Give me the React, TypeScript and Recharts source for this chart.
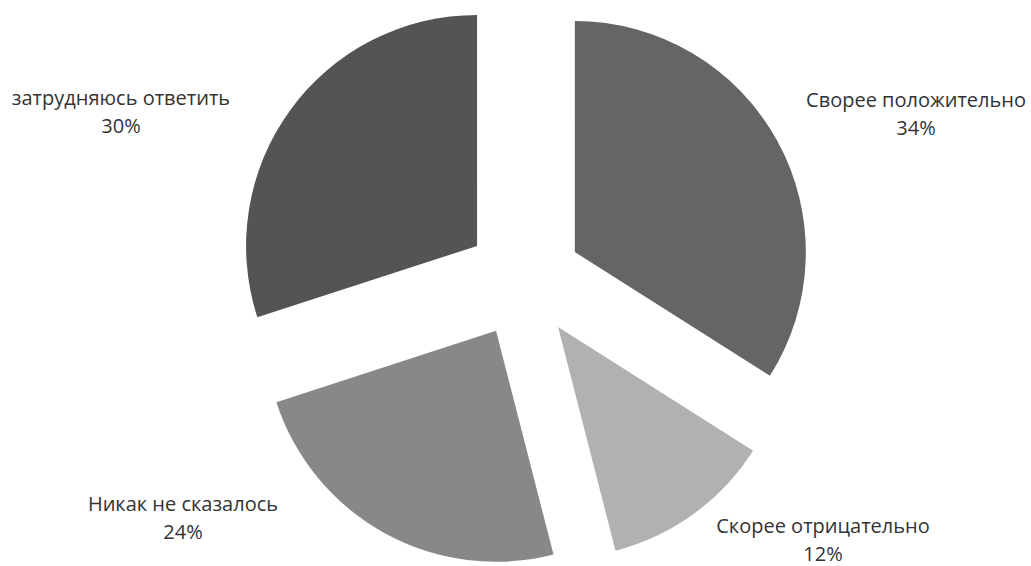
import React from 'react';
import { PieChart, Pie, Cell, Sector } from 'recharts';

const categories = ['Сворее положительно', 'Скорее отрицательно', 'Никак не сказалось', 'затрудняюсь ответить'];
const values = [34, 12, 24, 30];
const colors = ['#656565', '#b1b1b1', '#888888', '#545454'];

const data = categories.map((name, i) => ({ name, value: values[i] }));

const EXPLODE = 58;
const RAD = Math.PI / 180;
// label anchor offsets (first-line baseline) relative to the pie centre (Excel-like placement)
const labelPos = [
  { dx: 392, dy: -173 },
  { dx: 299, dy: 253 },
  { dx: -341, dy: 231 },
  { dx: -403, dy: -175 },
];

const renderShape = (props: any) => {
  const { cx, cy, midAngle } = props;
  const ox = cx + EXPLODE * Math.cos(-midAngle * RAD);
  const oy = cy + EXPLODE * Math.sin(-midAngle * RAD);
  return <Sector {...props} cx={ox} cy={oy} stroke="none" />;
};

const renderLabel = (props: any) => {
  const { cx, cy, index, name, percent } = props;
  const p = labelPos[index];
  const x = cx + p.dx;
  const y = cy + p.dy;
  return (
    <text x={x} y={y} textAnchor="middle" fill="#333333" fontFamily="'Open Sans', sans-serif" fontSize={20}>
      <tspan x={x} dy={0}>{name}</tspan>
      <tspan x={x} dy={28}>{`${Math.round(percent * 100)}%`}</tspan>
    </text>
  );
};

export default function App() {
  return (
    <div style={{ position: 'absolute', left: 0, top: 0, background: '#fff' }}>
      <PieChart width={1031} height={566} margin={{ top: 0, right: 0, bottom: 0, left: 0 }}>
        <Pie
          data={data}
          dataKey="value"
          nameKey="name"
          cx={524}
          cy={280}
          outerRadius={231}
          startAngle={90}
          endAngle={-270}
          stroke="none"
          isAnimationActive={false}
          shape={renderShape}
          activeShape={renderShape}
          inactiveShape={renderShape}
          label={renderLabel}
          labelLine={false}
        >
          {data.map((d, i) => (
            <Cell key={d.name} fill={colors[i]} />
          ))}
        </Pie>
      </PieChart>
    </div>
  );
}
